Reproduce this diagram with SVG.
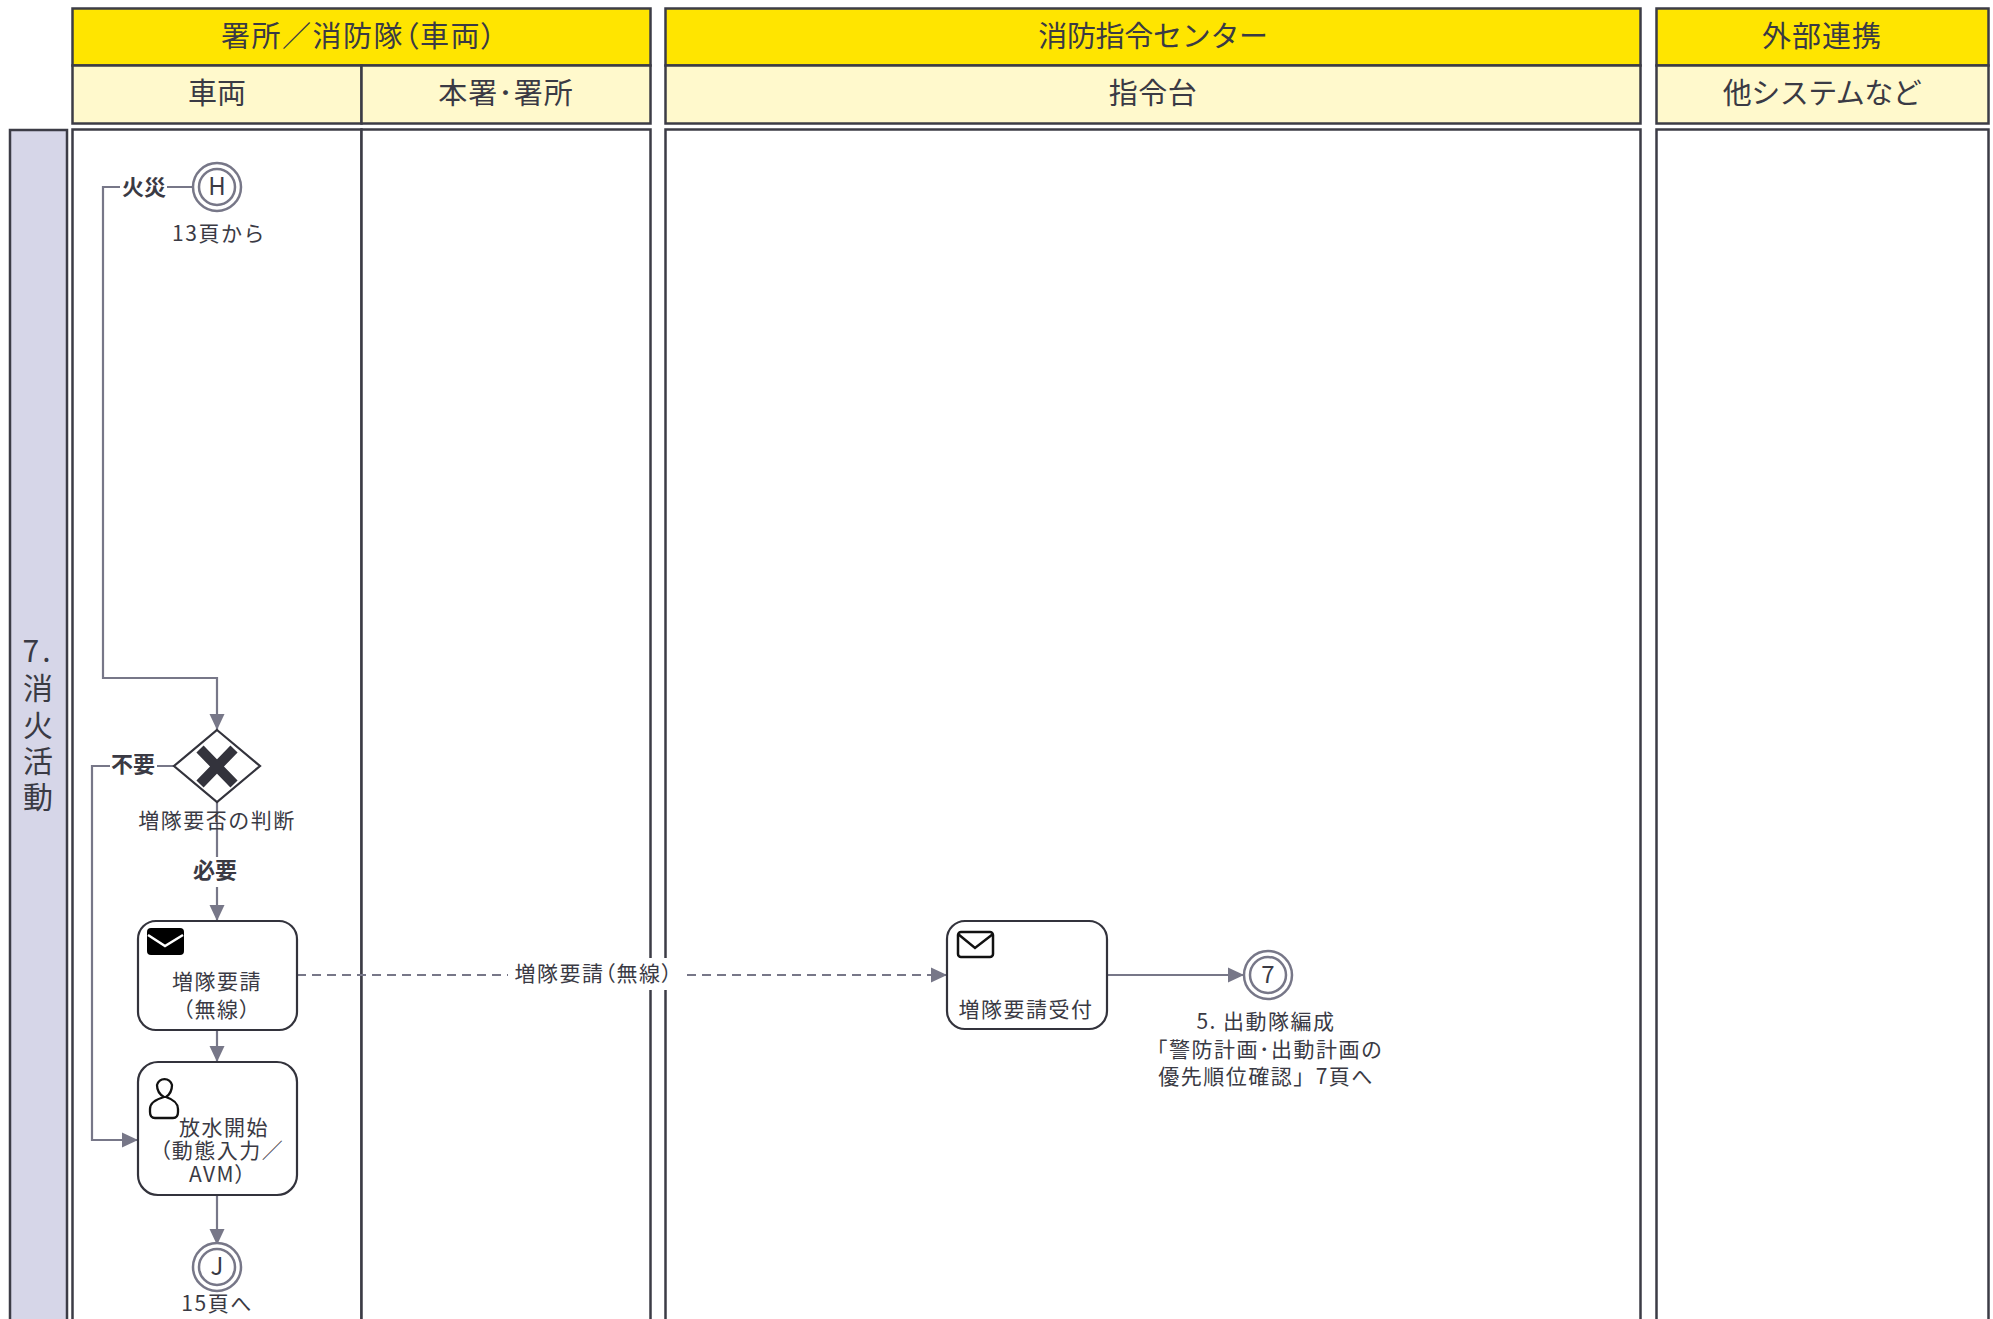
<svg xmlns="http://www.w3.org/2000/svg" width="1993" height="1319" viewBox="0 0 1993 1319">
<style>
text{font-family:"Noto Sans CJK JP","Noto Sans",sans-serif;fill:#3a3a44;text-anchor:middle}
.h{font-size:29px}
.p{font-feature-settings:"palt"}
.t{font-size:21px;letter-spacing:1.5px}
.b{font-size:22px;font-weight:700}
.l{font-size:24px}
.cell{stroke:#3c3c46;stroke-width:2.500}
.lane{fill:#fff;stroke:#3c3c46;stroke-width:2.500}
.task{fill:#fff;stroke:#33333c;stroke-width:2.200}
.ev{fill:#fff;stroke:#777788;stroke-width:2.500}
.c{fill:none;stroke:#777788;stroke-width:2.200}
.d{fill:none;stroke:#777788;stroke-width:2.200;stroke-dasharray:9 6}
</style>
<defs>
<marker id="arrow" markerUnits="userSpaceOnUse" markerWidth="16" markerHeight="16" refX="16" refY="8" orient="auto"><path d="M0 0.500L16 8L0 15.500Z" fill="#777788"/></marker>
</defs>
<g id="headers">
<rect class="cell" x="72.500" y="8.500" width="578" height="57" fill="#ffe500"/>
<rect class="cell" x="665.500" y="8.500" width="975" height="57" fill="#ffe500"/>
<rect class="cell" x="1656.500" y="8.500" width="332" height="57" fill="#ffe500"/>
<rect class="cell" x="72.500" y="65.500" width="289" height="58" fill="#fff9cc"/>
<rect class="cell" x="361.500" y="65.500" width="289" height="58" fill="#fff9cc"/>
<rect class="cell" x="665.500" y="65.500" width="975" height="58" fill="#fff9cc"/>
<rect class="cell" x="1656.500" y="65.500" width="332" height="58" fill="#fff9cc"/>
<text class="h p" x="359" y="47" letter-spacing="1.500">署所／消防隊（車両）</text>
<text class="h" x="1153" y="47" letter-spacing="-0.300">消防指令センター</text>
<text class="h" x="1822" y="47" letter-spacing="1">外部連携</text>
<text class="h" x="217" y="104">車両</text>
<text class="h" x="506" y="104" letter-spacing="1">本署･署所</text>
<text class="h" x="1153" y="104" letter-spacing="0.500">指令台</text>
<text class="h" x="1822" y="104" letter-spacing="-0.500">他システムなど</text>
</g>
<g id="lanes">
<rect x="10" y="130" width="57" height="1200" fill="#d6d6e8" stroke="#3c3c46" stroke-width="2.500"/>
<rect class="lane" x="72.500" y="129.500" width="289" height="1200"/>
<rect class="lane" x="361.500" y="129.500" width="289" height="1200"/>
<rect class="lane" x="665.500" y="129.500" width="975" height="1200"/>
<rect class="lane" x="1656.500" y="129.500" width="332" height="1200"/>
<text x="38" y="662" font-size="30" letter-spacing="3">7.</text>
<text x="38" y="699" font-size="30">消</text>
<text x="38" y="736" font-size="30">火</text>
<text x="38" y="772" font-size="30">活</text>
<text x="38" y="808" font-size="30">動</text>
</g>
<g id="connectors">
<path class="c" d="M192 187H103V678H217V730" marker-end="url(#arrow)"/>
<path class="c" d="M174 766H92V1140H138" marker-end="url(#arrow)"/>
<path class="c" d="M217 802V921" marker-end="url(#arrow)"/>
<path class="c" d="M217 1030V1062" marker-end="url(#arrow)"/>
<path class="c" d="M217 1195V1245" marker-end="url(#arrow)"/>
<path class="c" d="M1107 975H1244" marker-end="url(#arrow)"/>
<path class="d" d="M297 975H947" marker-end="url(#arrow)"/>
<rect x="508" y="958" width="176" height="32" fill="#fff"/>
<rect x="120" y="172" width="47" height="30" fill="#fff"/>
<rect x="110" y="750" width="47" height="30" fill="#fff"/>
<rect x="190" y="857" width="54" height="30" fill="#fff"/>
<text class="b" x="144" y="195">火災</text>
<text class="b" x="133" y="772">不要</text>
<text class="b" x="215" y="878">必要</text>
<text class="t p" x="594" y="981" letter-spacing="2.500">増隊要請（無線）</text>
</g>
<g id="start-h">
<circle class="ev" cx="217" cy="187" r="24"/><circle class="ev" cx="217" cy="187" r="18" stroke-width="2"/>
<text class="l" x="217" y="195">H</text>
<text class="t" x="219" y="241">13頁から</text>
</g>
<g id="gateway">
<path d="M217 730L260 766L217 802L174 766Z" fill="#fff" stroke="#33333c" stroke-width="2.200"/>
<path d="M200 749L234 784M234 749L200 784" stroke="#33333c" stroke-width="10" fill="none"/>
<text class="t" x="217" y="828" letter-spacing="1.800">増隊要否の判断</text>
</g>
<g id="task-request">
<rect class="task" x="138" y="921" width="159" height="109" rx="18"/>
<rect x="147" y="928" width="37" height="27" rx="4" fill="#000"/>
<path d="M148 935L165 946L183 935" fill="none" stroke="#fff" stroke-width="2.500"/>
<text class="t" x="217" y="989">増隊要請</text>
<text class="t p" x="217" y="1017" letter-spacing="3">（無線）</text>
</g>
<g id="task-water">
<rect class="task" x="138" y="1062" width="159" height="133" rx="20"/>
<path d="M155 1118Q150 1118 150 1112V1109Q150 1101 164 1097Q157 1093 157 1085A8 9 0 0 1 172 1085Q172 1093 166 1097Q178 1101 178 1109V1112Q178 1118 173 1118Z" fill="none" stroke="#111" stroke-width="2.300"/>
<text class="t" x="224" y="1135">放水開始</text>
<text class="t p" x="222" y="1158" letter-spacing="2.500">（動態入力／</text>
<text class="t p" x="218" y="1182" letter-spacing="2">AVM）</text>
</g>
<g id="end-j">
<circle class="ev" cx="217" cy="1267" r="24"/><circle class="ev" cx="217" cy="1267" r="18" stroke-width="2"/>
<text class="l" x="217" y="1275">J</text>
<text class="t" x="217" y="1311" letter-spacing="2">15頁へ</text>
</g>
<g id="task-receive">
<rect class="task" x="947" y="921" width="160" height="108" rx="18"/>
<rect x="958" y="932" width="35" height="25" rx="3" fill="#fff" stroke="#111" stroke-width="2.500"/>
<path d="M958 934L975 948L993 934" fill="none" stroke="#111" stroke-width="2.500"/>
<text class="t" x="1026" y="1017" letter-spacing="1.700">増隊要請受付</text>
</g>
<g id="end-7">
<circle class="ev" cx="1268" cy="975" r="24"/><circle class="ev" cx="1268" cy="975" r="18" stroke-width="2"/>
<text class="l" x="1268" y="983">7</text>
<text class="t" x="1266" y="1029" letter-spacing="1.700">5. 出動隊編成</text>
<text class="t" x="1265" y="1057" letter-spacing="1.800">「警防計画･出動計画の</text>
<text class="t" x="1266" y="1084">優先順位確認」7頁へ</text>
</g>
</svg>
